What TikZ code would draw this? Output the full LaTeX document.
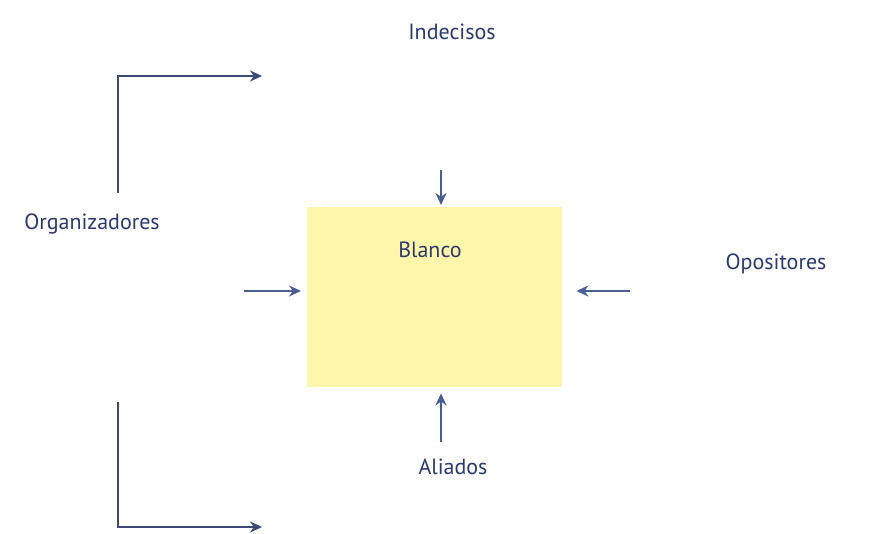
\documentclass[tikz,border=0pt]{standalone}
\usepackage{fontspec}
\setmainfont{PT Sans}
\usetikzlibrary{arrows.meta}
\definecolor{txtblue}{HTML}{2B3A6E}
\definecolor{arrblue}{HTML}{4A5E94}
\definecolor{boxyel}{HTML}{FFF6AC}
\begin{document}
\begin{tikzpicture}[x=1pt,y=-1pt,
  lbl/.style={font=\fontsize{22}{26}\selectfont, text=txtblue, inner sep=0pt},
  conn/.style={draw=arrblue, line width=2pt, -{Stealth[length=12pt,width=11pt]}},
  elbow/.style={draw=arrblue!80!black, line width=2pt, -{Stealth[length=12pt,width=11pt]}}]
\useasboundingbox (0,0) rectangle (893,534);
\fill[white] (0,0) rectangle (893,534);
% target box
\node[fill=boxyel, minimum width=255pt, minimum height=180pt, inner sep=0pt, anchor=north west] (blanco) at (307,207) {};
\node[lbl] (blancot) at (430,250) {Blanco};
% labels
\node[lbl] (indecisos) at (452,32) {Indecisos};
\node[lbl] (organiz) at (92,224) {Organizadores};
\node[lbl] (opositores) at (776,264) {Opositores};
\node[lbl] (aliados) at (453,467) {Aliados};
% arrow starts
\coordinate (ts) at (441,170);
\coordinate (bs) at (441,442);
\coordinate (ls) at (244,291);
\coordinate (rs) at (630,291);
\coordinate (ul0) at (118,193);
\coordinate (ul1) at (262,76);
\coordinate (ll0) at (118,402);
\coordinate (ll1) at (262,527);
% arrows into the box
\draw[conn, shorten >=2pt] (ts) -- (ts |- blanco.north);
\draw[conn, shorten >=6pt] (bs) -- (bs |- blanco.south);
\draw[conn, shorten >=6pt] (ls) -- (ls -| blanco.west);
\draw[conn, shorten >=14pt] (rs) -- (rs -| blanco.east);
% elbow arrows
\draw[elbow] (ul0) |- (ul1);
\draw[elbow] (ll0) |- (ll1);
\end{tikzpicture}
\end{document}
